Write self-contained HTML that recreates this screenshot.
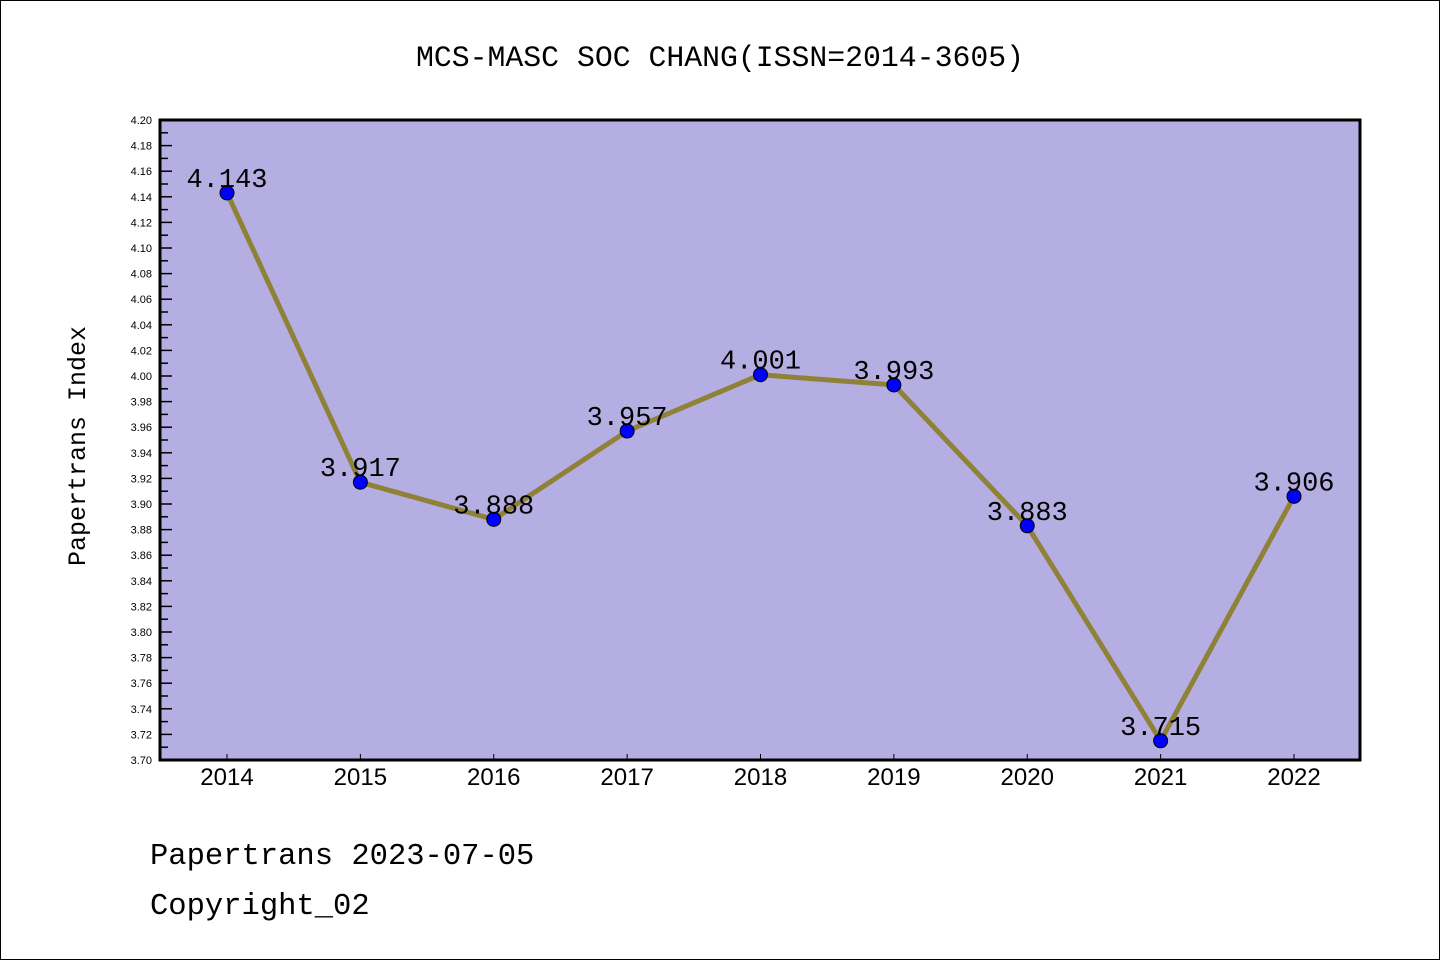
<!DOCTYPE html>
<html><head><meta charset="utf-8"><style>
html,body{margin:0;padding:0;background:#fff}
svg{display:block}
text{font-family:"Liberation Sans","DejaVu Sans",sans-serif}
.mono{font-family:"Liberation Mono","DejaVu Sans Mono",monospace}
</style></head><body>
<svg id="chart" width="1440" height="960">
<rect x="0.5" y="0.5" width="1439" height="959" fill="#fff" stroke="#000"/>
<text x="720" y="66" text-anchor="middle" font-size="29.8" class="mono">MCS-MASC SOC CHANG(ISSN=2014-3605)</text>
<rect x="160" y="120" width="1200" height="640" fill="#b4aee2"/>
<g id="yaxis"></g>
<g id="xaxis"></g>
<g id="series"></g>
<rect x="160" y="120" width="1200" height="640" fill="none" stroke="#000" stroke-width="3"/>
<text x="85" y="446" text-anchor="middle" font-size="25" class="mono" transform="rotate(-90 85 446)">Papertrans Index</text>
<text x="150" y="864" font-size="30.5" class="mono">Papertrans 2023-07-05</text>
<text x="150" y="914" font-size="30.5" class="mono">Copyright_02</text>
</svg>
<script>
const years=["2014","2015","2016","2017","2018","2019","2020","2021","2022"];
const values=[4.143,3.917,3.888,3.957,4.001,3.993,3.883,3.715,3.906];
const valueLabels=["4.143","3.917","3.888","3.957","4.001","3.993","3.883","3.715","3.906"];
const yMin=3.70,yMax=4.20;
const NS="http://www.w3.org/2000/svg";
function X(i){return 227+i*(1294-227)/(years.length-1);}
function Y(v){return 760-(v-yMin)/(yMax-yMin)*640;}
function mk(t,a,p){const e=document.createElementNS(NS,t);for(const k in a)e.setAttribute(k,a[k]);p.appendChild(e);return e;}
const ya=document.getElementById('yaxis');
for(let k=0;k<=50;k++){
  const v=yMin+k*0.01,y=Y(v),major=k%2===0;
  const t=mk('line',{x1:160,x2:160+(major?12:8),y1:y,y2:y,stroke:'#000','stroke-width':1.5},ya);
  
  
  if(major){
    const l=mk('text',{x:152,y:y+4,'text-anchor':'end','font-size':11},ya);
    l.textContent=v.toFixed(2);
    
    
  }
}
const xa=document.getElementById('xaxis');
years.forEach((yr,i)=>{
  const t=mk('line',{x1:X(i),x2:X(i),y1:760,y2:754,stroke:'#000','stroke-width':1},xa);
  
  
  const l=mk('text',{x:X(i),y:785,'text-anchor':'middle','font-size':24},xa);
  l.textContent=yr;
  
  
});
const s=document.getElementById('series');
const pl=mk('polyline',{points:values.map((v,i)=>X(i)+','+Y(v)).join(' '),fill:'none',stroke:'#8f8238','stroke-width':5},s);


values.forEach((v,i)=>{
  const c=mk('circle',{cx:X(i),cy:Y(v),r:7,fill:'#0000ff',stroke:'#000','stroke-width':1},s);
  
  
});
values.forEach((v,i)=>{
  const l=mk('text',{x:X(i),y:Y(v)-6,'text-anchor':'middle','font-size':27,'class':'mono'},s);
  l.textContent=valueLabels[i];
  
  
});
</script>
</body></html>
